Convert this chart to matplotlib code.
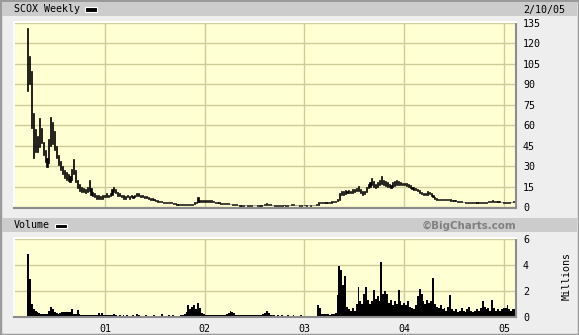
import matplotlib
matplotlib.use("Agg")
from matplotlib import pyplot as plt
from matplotlib.patches import Rectangle
import pandas as pd
import numpy as np

#------------------------------------------#
# Weekly data (USD / millions of shares)
#------------------------------------------#

high_2000 = [131, 111, 100, 69, 57, 52, 65, 58, 48, 42, 36, 50, 66, 62, 56, 45, 38, 34, 30, 27,
             26, 24, 23, 28, 35, 27, 20, 17, 15, 14, 13, 15, 20, 14, 11, 10, 9, 9, 8, 9, 9]
low_2000 = [85, 90, 58, 36, 40, 40, 44, 47, 38, 33, 29, 32, 45, 46, 42, 36, 31, 27, 24, 21,
            20, 19, 18, 20, 24, 18, 14, 12, 11, 11, 10, 11, 12, 9, 8, 7, 6, 6, 6, 6, 7]

high_2001 = [10, 9, 10, 13, 15, 13, 11, 10, 9, 9, 8, 9, 8, 9, 8, 9, 10, 10.5, 9, 8.5,
             8, 8, 7.5, 7, 6.5, 6, 5.5, 5, 4.5, 4.5, 4, 4, 3.5, 3.5, 3.5, 3.3, 3, 2.5, 2.2, 2,
             2, 1.9, 2, 2, 2, 2.5, 3.5, 4, 7, 5.5, 5, 5]
low_2001 = [7, 7, 8, 9, 11, 10, 8, 8, 7, 6, 6, 7, 6, 7, 6.5, 7, 8, 8, 7.5, 7,
            6.5, 6.5, 6, 5.5, 5.5, 5, 4.5, 4, 3.5, 3.5, 3, 3, 2.8, 2.8, 2.7, 2.6, 2.2, 1.8, 1.5, 1.5,
            1.4, 1.4, 1.4, 1.5, 1.5, 1.6, 2, 2.8, 3.5, 4, 4, 4]

high_2002 = [5.5, 5, 5, 4.8, 4.5, 4, 3.7, 3.5, 3.3, 3.2, 3, 3, 2.8, 2.6, 2.4, 2.2, 2, 1.8, 1.6, 1.5,
             1.6, 1.7, 1.5, 1.4, 1.5, 1.8, 1.7, 1.6, 1.5, 1.6, 1.8, 2.2, 3, 2.5, 2.2, 1.8, 1.6, 1.5, 1.4, 1.5,
             1.6, 1.7, 1.6, 1.5, 1.8, 2, 1.9, 1.7, 1.8, 1.6, 1.6, 1.8]
low_2002 = [4, 4, 4, 3.8, 3.5, 3.2, 3, 2.8, 2.6, 2.6, 2.4, 2.3, 2.2, 2, 1.8, 1.6, 1.4, 1.2, 1.1, 1,
            1.1, 1.2, 1, 0.9, 1, 1.2, 1.2, 1.1, 1, 1.1, 1.2, 1.4, 1.8, 1.7, 1.5, 1.3, 1.1, 1, 1, 1,
            1.1, 1.2, 1.1, 1, 1.2, 1.3, 1.3, 1.2, 1.2, 1.1, 1.1, 1.2]

high_2003 = [1.8, 1.6, 1.7, 1.6, 1.7, 1.8, 2, 3.5, 3.6, 3.5, 3.5, 3.6, 3.8, 4, 4.1, 4.3, 4.8, 6, 10, 12,
             11.5, 12.5, 12, 12.5, 12, 13, 13.5, 14, 15.5, 13, 11.5, 12, 15, 17, 18, 21, 19, 17, 18, 20,
             22.5, 20, 19, 18, 17, 16.5, 18, 19, 20, 19, 18.5, 18]
low_2003 = [1.2, 1.1, 1.2, 1.1, 1.2, 1.2, 1.4, 1.8, 2.8, 2.9, 2.9, 3, 3.1, 3.2, 3.3, 3.5, 3.7, 4.2, 5.5, 8.5,
            9, 9.5, 10, 10, 10, 10.5, 11, 11.5, 12, 10, 9, 9.5, 11, 14, 15, 16, 15, 14, 15, 16,
            17, 16, 15.5, 15, 14.5, 14, 15, 15.5, 16, 16.5, 16, 16]

high_2004 = [18, 17.5, 17, 16, 15, 14.5, 14, 13.5, 12.5, 11, 10.5, 10, 11.5, 11, 10, 8.5, 7.5, 6.5, 6, 6,
             6, 5.8, 6, 6.2, 5.8, 5.2, 5.5, 5, 4.6, 4.5, 4.2, 4, 4, 3.8, 3.8, 3.7, 3.8, 3.9, 3.7, 3.6,
             3.5, 3.4, 3.6, 3.8, 4.2, 4.5, 4.8, 4.5, 4.3, 4.2, 4.4, 4, 3.9]
low_2004 = [16, 15.5, 15, 14, 13, 12.5, 12.5, 12, 10.5, 9.5, 9, 8.5, 9, 9.5, 8, 7, 6, 5.5, 5, 5,
            5.2, 5, 5, 5.2, 4.8, 4.5, 4.6, 4.2, 4, 3.8, 3.6, 3.4, 3.3, 3.3, 3.2, 3.2, 3.3, 3.3, 3.1, 3,
            2.9, 2.8, 3, 3.2, 3.5, 3.7, 3.9, 3.8, 3.6, 3.5, 3.7, 3.4, 3.3]

high_2005 = [3.8, 3.7, 3.9, 4, 4.2, 4.4]
low_2005 = [3.2, 3.1, 3.3, 3.4, 3.5, 3.7]

vol_2000 = [4.85, 2.9, 1.0, 0.6, 0.5, 0.4, 0.3, 0.25, 0.2, 0.2, 0.25, 0.5, 0.8, 0.6, 0.35, 0.3, 0.25, 0.3, 0.35, 0.35,
            0.4, 0.35, 0.4, 0.6, 0.25, 0.2, 0.55, 0.2, 0.15, 0.15, 0.12, 0.15, 0.15, 0.12, 0.12, 0.15, 0.12, 0.3, 0.15, 0.3, 0.15]
vol_2001 = [0.12, 0.12, 0.15, 0.12, 0.2, 0.12, 0.1, 0.12, 0.1, 0.12, 0.1, 0.15, 0.1, 0.1, 0.12, 0.1, 0.2, 0.12, 0.1, 0.1,
            0.1, 0.12, 0.1, 0.1, 0.1, 0.15, 0.1, 0.1, 0.1, 0.2, 0.1, 0.1, 0.1, 0.12, 0.1, 0.15, 0.1, 0.1, 0.1, 0.12,
            0.15, 0.2, 0.4, 0.9, 0.6, 0.8, 0.9, 0.6, 1.05, 0.7, 0.3, 0.2]
vol_2002 = [0.15, 0.15, 0.12, 0.15, 0.12, 0.15, 0.12, 0.15, 0.12, 0.12, 0.15, 0.2, 0.3, 0.5, 0.4, 0.3, 0.15, 0.12, 0.15, 0.12,
            0.12, 0.15, 0.12, 0.12, 0.15, 0.12, 0.12, 0.15, 0.12, 0.15, 0.2, 0.3, 0.45, 0.3, 0.15, 0.12, 0.12, 0.1, 0.12, 0.1,
            0.12, 0.1, 0.1, 0.12, 0.1, 0.1, 0.12, 0.1, 0.1, 0.1, 0.12, 0.1]
vol_2003 = [0.08, 0.08, 0.1, 0.08, 0.08, 0.1, 0.08, 0.9, 0.7, 0.2, 0.2, 0.25, 0.2, 0.15, 0.2, 0.2, 0.3, 1.7, 3.93, 3.6,
            2.5, 3.2, 0.8, 0.6, 0.5, 0.7, 0.5, 1.0, 2.3, 1.2, 1.0, 1.8, 2.3, 1.3, 1.0, 1.2, 2.1, 1.4, 1.6, 1.2,
            4.27, 1.8, 2.0, 1.8, 1.1, 1.3, 0.9, 1.2, 1.0, 2.1, 1.2, 0.9]
vol_2004 = [1.1, 0.9, 1.2, 0.8, 0.7, 0.6, 0.9, 1.6, 2.2, 1.8, 1.2, 1.0, 1.3, 1.1, 1.2, 3.0, 1.0, 0.8, 0.7, 0.9,
            0.6, 0.7, 0.5, 0.8, 1.7, 0.6, 0.5, 0.6, 0.4, 0.5, 0.7, 0.5, 0.4, 0.6, 0.8, 0.5, 0.4, 0.5, 0.6, 0.5,
            0.7, 1.2, 0.8, 0.6, 0.7, 0.5, 1.3, 0.7, 0.5, 0.6, 0.5, 0.6, 0.7]
vol_2005 = [0.7, 0.9, 0.6, 0.5, 0.6, 0.6]

highs = high_2000 + high_2001 + high_2002 + high_2003 + high_2004 + high_2005
lows = low_2000 + low_2001 + low_2002 + low_2003 + low_2004 + low_2005
volume = vol_2000 + vol_2001 + vol_2002 + vol_2003 + vol_2004 + vol_2005

weeks = pd.date_range("2000-03-24", periods=len(highs), freq="7D")

price_ticks = [0, 15, 30, 45, 60, 75, 90, 105, 120, 135]
vol_ticks = [0, 2, 4, 6]
year_ticks = ["2001-01-01", "2002-01-01", "2003-01-01", "2004-01-01", "2005-01-01"]
year_labels = ["01", "02", "03", "04", "05"]

#------------------------------------------#
# Figure layout (pixel based)
#------------------------------------------#

W, H = 579, 335
fig = plt.figure(figsize=(W / 100, H / 100), dpi=100, facecolor="#eeeeee")
mono = "DejaVu Sans Mono"
fs = 7.2
panel = "#ffffd4"
grid = "#cccc99"

def box(x0, y0, x1, y1):
    return [x0 / W, 1 - y1 / H, (x1 - x0) / W, (y1 - y0) / H]

# outer border and header bars
fig.patches.append(Rectangle((0, 0), 1, 1, transform=fig.transFigure, fill=False,
                             edgecolor="#9a9a9a", linewidth=2.5))
for y0, y1 in [(2, 16), (218, 232)]:
    b = box(2, y0, 577, y1)
    fig.patches.append(Rectangle((b[0], b[1]), b[2], b[3], transform=fig.transFigure,
                                 facecolor="#cccccc", edgecolor="none"))

def swatch(x0, y0, x1, y1):
    b = box(x0, y0, x1, y1)
    fig.patches.append(Rectangle((b[0], b[1]), b[2], b[3], transform=fig.transFigure,
                                 facecolor="black", edgecolor="white", linewidth=0.8))

fig.text(14 / W, 1 - 9.5 / H, "SCOX Weekly", family=mono, size=fs, va="center", ha="left")
swatch(85, 7.5, 97, 11.5)
fig.text(565 / W, 1 - 9.5 / H, "2/10/05", family=mono, size=fs, va="center", ha="right")
fig.text(14 / W, 1 - 225.5 / H, "Volume", family=mono, size=fs, va="center", ha="left")
swatch(55, 223.5, 67, 227.5)
fig.text(516 / W, 1 - 225.5 / H, "\u00a9BigCharts.com", family="DejaVu Sans", weight="bold",
         size=7.4, color="#808080", va="center", ha="right")
fig.text(567 / W, 1 - 276 / H, "Millions", family=mono, size=fs, rotation=90,
         va="center", ha="center")

ax = fig.add_axes(box(14, 22, 516, 208))
axv = fig.add_axes(box(14, 238, 516, 317))

xlim = (pd.Timestamp("2000-02-02"), pd.Timestamp("2005-02-14"))

for a in (ax, axv):
    a.set_facecolor(panel)
    a.set_xlim(xlim)
    a.set_xticks(pd.to_datetime(year_ticks))
    a.grid(True, color=grid, linewidth=1)
    a.set_axisbelow(True)
    a.yaxis.tick_right()
    a.tick_params(length=0, labelsize=fs, pad=5)
    a.spines["top"].set_color("white")
    a.spines["left"].set_color("white")
    a.spines["bottom"].set_color("#8c8c8c")
    a.spines["right"].set_color("#8c8c8c")
    for s in a.spines.values():
        s.set_linewidth(1.5)

#------------------------------------------#
# Price panel
#------------------------------------------#

hi = np.array(highs)
lo = np.array(lows)
ax.bar(weeks, hi - lo, bottom=lo, width=4, color="black", edgecolor="black",
       linewidth=0.5, align="center")
ax.set_ylim(-0.7, 135.7)
ax.set_yticks(price_ticks)
ax.set_yticklabels([str(t) for t in price_ticks], family=mono, size=fs)
ax.set_xticklabels([])

#------------------------------------------#
# Volume panel
#------------------------------------------#

axv.bar(weeks, volume, width=7, color="black", linewidth=0, align="center")
axv.set_ylim(0, 6.1)
axv.set_yticks(vol_ticks)
axv.set_yticklabels([str(t) for t in vol_ticks], family=mono, size=fs)
axv.set_xticklabels(year_labels, family=mono, size=fs)

fig.savefig("out.png", dpi=100, facecolor=fig.get_facecolor())
